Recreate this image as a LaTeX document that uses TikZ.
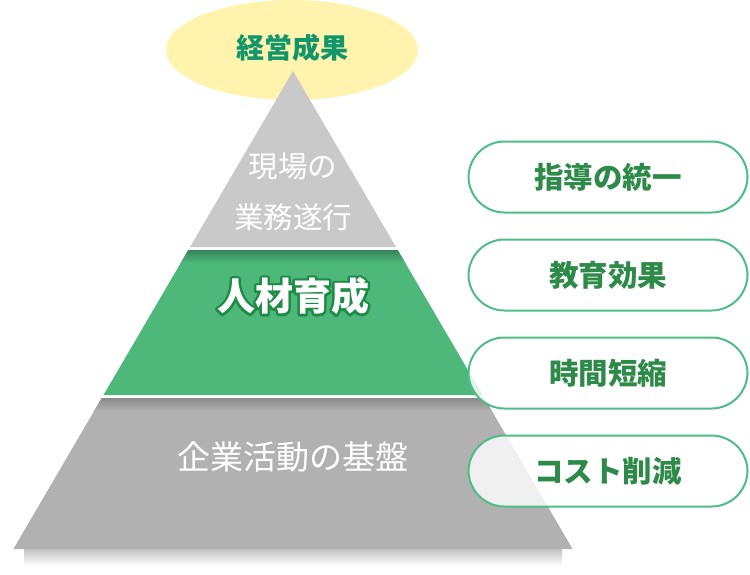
\documentclass[tikz,border=0pt]{standalone}
\usepackage{fontspec}
\setmainfont{Noto Sans CJK JP}
\usetikzlibrary{positioning,calc}
\definecolor{goalfill}{HTML}{FFF3AD}
\definecolor{goaltext}{HTML}{11966B}
\definecolor{toplayer}{HTML}{C9C9C9}
\definecolor{midlayer}{HTML}{4DB87A}
\definecolor{baselayer}{HTML}{B1B1B1}
\definecolor{midedge}{HTML}{1E8C47}
\definecolor{pillline}{HTML}{4DBE86}
\definecolor{pilltext}{HTML}{2E8A48}
% white text with a dark green rim
\newcommand{\rimtext}[1]{\rlap{\special{pdf:literal direct q 1 j 5 w 0.118 0.549 0.278 RG 0.118 0.549 0.278 rg 2 Tr}#1\special{pdf:literal direct Q}}#1}

\begin{document}
\begin{tikzpicture}[
  x=1pt,y=-1pt,
  goal/.style={text=goaltext,font=\bfseries\fontsize{28}{32}\selectfont},
  layerlabel/.style={text=white,align=center,font=\fontsize{29.5}{51}\selectfont},
  keylabel/.style={text=white,font=\bfseries\fontsize{38}{44}\selectfont},
  pill/.style={draw=pillline,line width=2pt,fill=white,fill opacity=0.82,text opacity=1,rounded corners=36pt,minimum width=279pt,minimum height=71pt,text=pilltext,font=\bfseries\fontsize{29.5}{34}\selectfont}
]
\useasboundingbox (0,0) rectangle (750,574);

% Goal on top
\fill[goalfill] (292,50) ellipse [x radius=126, y radius=50];
\node[goal] (goal) at (292,48) {経営成果};

% Pyramid layers
\shade[top color=black!24, bottom color=white] (24,549) rectangle (562,566);
\fill[toplayer] (293,71) -- (396,247) -- (190,247) -- cycle;
\fill[midlayer] (188.3,250) -- (397.7,250) -- (482.5,395) -- (103.5,395) -- cycle;
\fill[baselayer] (101.7,398) -- (484.3,398) -- (572.6,549) -- (13.4,549) -- cycle;
\begin{scope}
  \clip (188.3,250) -- (397.7,250) -- (482.5,395) -- (103.5,395) -- cycle;
  \shade[top color=midlayer!72!black, bottom color=midlayer] (100,250) rectangle (490,263);
\end{scope}
\begin{scope}
  \clip (101.7,398) -- (484.3,398) -- (572.6,549) -- (13.4,549) -- cycle;
  \shade[top color=baselayer!78!black, bottom color=baselayer] (10,398) rectangle (580,411);
\end{scope}

% Layer texts
\node[layerlabel] (field) at (293,192) {現場の\\業務遂行};
\node[keylabel] (people) at (293,296) {\rimtext{人材育成}};
\node[layerlabel,font=\fontsize{33}{38}\selectfont] (base) at (293,457) {企業活動の基盤};

% Effects
\node[pill] (p1) at (608,177) {指導の統一};
\node[pill] (p2) at (608,275) {教育効果};
\node[pill] (p3) at (608,373) {時間短縮};
\node[pill] (p4) at (608,471) {コスト削減};
\end{tikzpicture}
\end{document}
